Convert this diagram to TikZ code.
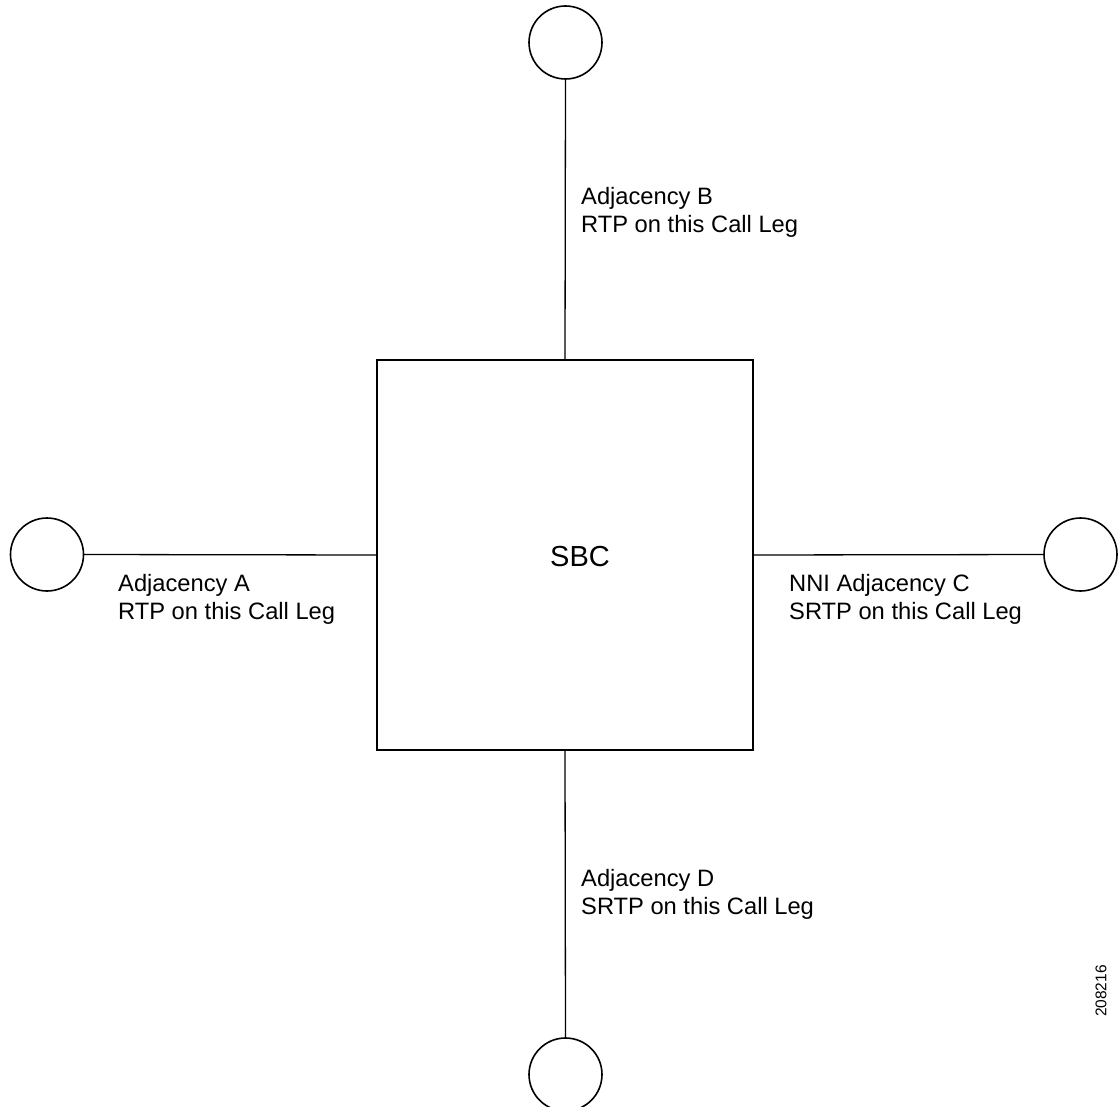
\documentclass[tikz,border=0pt]{standalone}
\usepackage{fontspec}
\setmainfont{Liberation Sans}
\begin{document}
\begin{tikzpicture}[x=1pt,y=-1pt,
  endpt/.style={draw, circle, line width=1.6pt, minimum size=73pt, inner sep=0pt, outer sep=0pt},
  sbcbox/.style={draw, line width=1.8pt, minimum width=376pt, minimum height=390pt, inner sep=0pt, outer sep=0pt},
  conn/.style={line width=1.3pt},
  lbl/.style={anchor=north west, inner sep=0pt, align=left, font=\fontsize{23.7}{28.5}\selectfont}]
\clip (0,0) rectangle (1118,1107);
\useasboundingbox (0,0) rectangle (1118,1107);
\node[sbcbox] (sbc) at (565,555) {};
\node[anchor=base, inner sep=0pt, font=\fontsize{29}{34}\selectfont] (sbclbl) at (580,566) {SBC};
\node[endpt] (top) at (565.5,42.5) {};
\node[endpt] (bot) at (565.5,1074.5) {};
\node[endpt] (lft) at (47,554.5) {};
\node[endpt] (rgt) at (1080.5,554.5) {};
\draw[conn] (top.south) -- (sbc.north);
\draw[conn] (sbc.south) -- (bot.north);
\draw[conn] (lft.east) -- (sbc.west);
\draw[conn] (sbc.east) -- (rgt.west);
\node[lbl] (lb) at (581,187) {Adjacency B\\RTP on this Call Leg};
\node[lbl] (la) at (118,574) {Adjacency A\\RTP on this Call Leg};
\node[lbl] (lc) at (789,574) {NNI Adjacency C\\SRTP on this Call Leg};
\node[lbl] (ld) at (581,869) {Adjacency D\\SRTP on this Call Leg};
\node[rotate=90, inner sep=0pt, font=\fontsize{15.5}{18}\selectfont] (fig) at (1101,991) {208216};
\end{tikzpicture}
\end{document}
